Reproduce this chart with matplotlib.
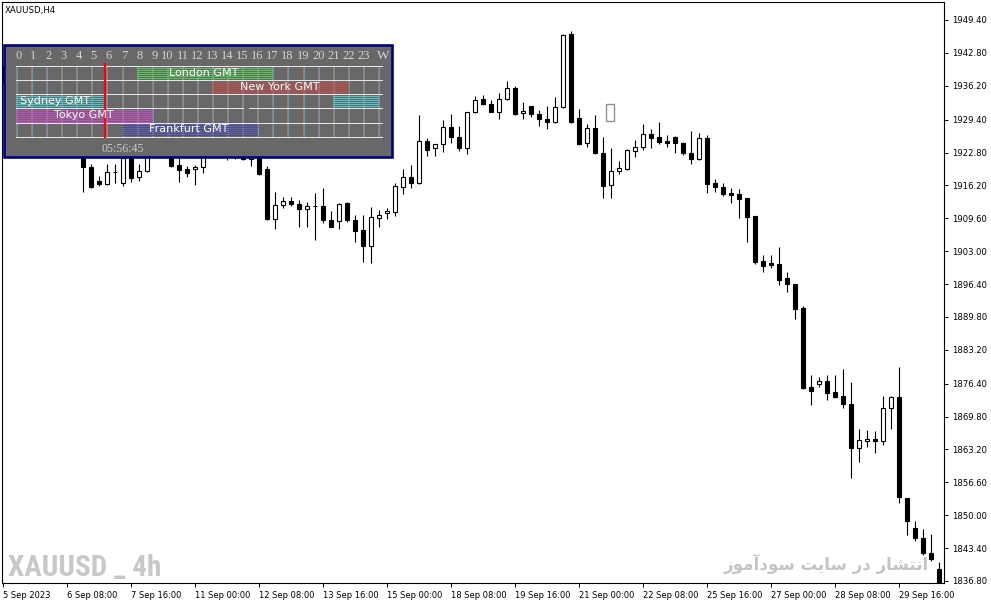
import numpy as np
import matplotlib
matplotlib.use('Agg')
import matplotlib.pyplot as plt
from matplotlib import font_manager
from matplotlib.patches import Rectangle

# XAUUSD H4 candles, 5 Sep 2023 .. 2 Oct 2023
opens = [1938.5, 1937.5, 1935.6, 1936.2, 1930.8, 1927.1, 1928.2, 1927.0, 1924.9, 1926.1,
         1925.6, 1919.9, 1917.1, 1916.5, 1918.9, 1916.7, 1922.8, 1917.9, 1919.1, 1923.8,
         1925.9, 1923.4, 1920.3, 1919.5, 1919.55, 1919.9, 1923.0, 1924.7, 1923.8, 1922.6,
         1923.2, 1921.4, 1922.4, 1919.5, 1909.4, 1912.3, 1913.1, 1912.5, 1911.5, 1912.1,
         1912.1, 1909.3, 1909.1, 1912.7, 1909.3, 1907.25, 1904.1, 1909.6, 1910.6, 1910.9,
         1915.9, 1917.8, 1916.6, 1925.1, 1923.65, 1924.45, 1927.9, 1925.9, 1923.8, 1930.9,
         1933.5, 1932.5, 1931.0, 1933.5, 1935.7, 1930.7, 1932.1, 1930.5, 1929.5, 1928.9,
         1931.9, 1946.6, 1929.7, 1924.65, 1927.7, 1922.8, 1916.3, 1919.15, 1919.4, 1923.2,
         1924.0, 1926.5, 1925.9, 1925.1, 1926.0, 1924.65, 1922.8, 1921.4, 1925.65, 1916.6,
         1915.8, 1914.6, 1914.4, 1913.6, 1910.1, 1901.0, 1900.6, 1900.4, 1897.55, 1896.4,
         1891.5, 1875.7, 1876.3, 1876.9, 1874.7, 1873.9, 1872.3, 1863.4, 1864.9, 1865.2,
         1864.8, 1871.5, 1873.8, 1853.4, 1847.5, 1845.5, 1842.4, 1839.3]
highs = [1940.2, 1938.6, 1937.0, 1936.9, 1932.0, 1928.8, 1929.9, 1927.9, 1926.8, 1927.4,
         1926.3, 1920.5, 1918.1, 1920.5, 1920.5, 1923.5, 1923.6, 1920.5, 1925.0, 1927.2,
         1926.8, 1924.2, 1922.4, 1920.0, 1920.3, 1924.0, 1925.8, 1926.6, 1925.1, 1924.0,
         1924.4, 1923.5, 1923.5, 1920.0, 1914.9, 1913.9, 1913.9, 1913.3, 1912.9, 1914.7,
         1915.7, 1911.1, 1912.7, 1912.8, 1910.3, 1910.3, 1911.9, 1911.3, 1911.7, 1916.7,
         1919.5, 1920.3, 1930.3, 1925.65, 1924.6, 1929.3, 1930.5, 1928.1, 1931.0, 1934.15,
         1934.3, 1933.3, 1934.7, 1937.2, 1936.15, 1932.9, 1932.2, 1931.3, 1932.1, 1933.9,
         1946.6, 1947.2, 1931.5, 1928.5, 1930.3, 1925.9, 1923.65, 1921.0, 1923.5, 1925.3,
         1928.5, 1927.5, 1928.9, 1926.3, 1926.1, 1925.0, 1927.1, 1926.7, 1926.3, 1917.5,
         1916.7, 1915.6, 1915.4, 1913.7, 1910.1, 1902.2, 1902.2, 1903.9, 1898.8, 1896.5,
         1892.0, 1878.1, 1877.7, 1878.1, 1878.1, 1879.35, 1876.8, 1867.25, 1867.1, 1866.9,
         1873.9, 1874.0, 1879.8, 1853.5, 1848.9, 1847.2, 1846.2, 1840.55]
lows = [1936.8, 1934.9, 1933.8, 1929.5, 1926.4, 1925.8, 1926.5, 1923.6, 1923.9, 1925.2,
        1914.9, 1915.7, 1916.1, 1916.3, 1916.7, 1916.1, 1916.9, 1917.1, 1918.9, 1922.6,
        1922.8, 1919.9, 1916.9, 1917.9, 1916.3, 1918.75, 1922.3, 1923.1, 1921.3, 1921.5,
        1921.2, 1920.15, 1918.3, 1909.3, 1907.45, 1911.6, 1912.0, 1907.9, 1907.9, 1905.2,
        1908.65, 1907.8, 1907.4, 1908.9, 1904.9, 1900.9, 1900.7, 1907.9, 1909.5, 1910.1,
        1914.5, 1915.7, 1916.5, 1922.1, 1922.1, 1923.0, 1924.8, 1923.2, 1922.6, 1930.7,
        1932.4, 1930.9, 1929.6, 1933.4, 1930.3, 1929.5, 1930.0, 1928.2, 1927.5, 1928.8,
        1931.7, 1928.8, 1924.3, 1924.0, 1922.5, 1913.7, 1913.6, 1918.4, 1919.3, 1921.8,
        1923.3, 1923.8, 1924.5, 1924.0, 1922.8, 1922.3, 1920.5, 1921.3, 1914.7, 1914.9,
        1914.1, 1912.7, 1909.6, 1904.9, 1900.4, 1898.9, 1899.6, 1896.2, 1894.9, 1889.4,
        1875.3, 1872.1, 1875.7, 1873.1, 1873.5, 1871.6, 1857.4, 1860.7, 1863.6, 1862.55,
        1864.1, 1867.3, 1852.4, 1846.0, 1844.9, 1842.0, 1840.8, 1836.0]
closes = [1937.5, 1935.6, 1936.2, 1930.8, 1927.1, 1928.2, 1927.0, 1924.9, 1926.1, 1925.6,
          1919.9, 1915.9, 1916.5, 1918.9, 1918.8, 1921.7, 1917.7, 1919.1, 1923.8, 1925.9,
          1923.4, 1920.1, 1919.3, 1918.7, 1919.95, 1923.0, 1924.7, 1923.8, 1922.6, 1923.2,
          1921.4, 1922.4, 1918.5, 1909.5, 1912.3, 1913.1, 1912.5, 1911.5, 1912.1, 1912.0,
          1909.3, 1907.9, 1912.5, 1909.3, 1907.1, 1904.1, 1909.9, 1910.3, 1911.1, 1916.1,
          1917.8, 1916.7, 1925.1, 1923.3, 1924.45, 1927.9, 1925.9, 1923.8, 1930.9, 1933.3,
          1932.5, 1931.0, 1933.5, 1935.7, 1930.5, 1931.1, 1930.5, 1929.5, 1928.9, 1931.9,
          1946.4, 1929.0, 1924.5, 1927.7, 1922.8, 1916.1, 1919.15, 1919.6, 1923.3, 1924.0,
          1926.5, 1925.8, 1925.0, 1924.8, 1924.65, 1922.8, 1921.4, 1925.65, 1916.4, 1915.8,
          1914.5, 1914.3, 1913.5, 1909.9, 1900.8, 1900.1, 1900.3, 1897.2, 1896.35, 1891.45,
          1875.6, 1875.0, 1876.9, 1874.6, 1873.8, 1872.3, 1863.4, 1865.1, 1865.2, 1864.8,
          1871.5, 1873.8, 1853.6, 1848.9, 1845.4, 1842.4, 1841.15, 1836.2]

date_labels = ['5 Sep 2023', '6 Sep 08:00', '7 Sep 16:00', '11 Sep 00:00', '12 Sep 08:00',
               '13 Sep 16:00', '15 Sep 00:00', '18 Sep 08:00', '19 Sep 16:00', '21 Sep 00:00',
               '22 Sep 08:00', '25 Sep 16:00', '27 Sep 00:00', '28 Sep 08:00', '29 Sep 16:00']
price_ticks = [1949.40, 1942.80, 1936.20, 1929.40, 1922.80, 1916.20, 1909.60, 1903.00, 1896.40,
               1889.80, 1883.20, 1876.40, 1869.80, 1863.20, 1856.60, 1850.00, 1843.40, 1836.80]

# sessions panel
sessions = ['London GMT', 'New York GMT', 'Sydney GMT', 'Tokyo GMT', 'Frankfurt GMT']
sess_start = [8, 13, 21, 0, 7]
sess_end = [17, 22, 6, 9, 16]
sess_colors = ['#50c850', '#c84848', '#48c8c8', '#c848c8', '#4848b0']
cur_time = '05:56:45'

W, H = 991, 605
fig = plt.figure(figsize=(W / 100, H / 100), dpi=100)

avail = {f.name for f in font_manager.fontManager.ttflist}
narrow = next(n for n in ['Liberation Sans Narrow', 'Roboto Condensed', 'DejaVu Sans'] if n in avail)
serif = 'Liberation Serif' if 'Liberation Serif' in avail else 'DejaVu Serif'


def px_box(l, t, r, b):
    return [l / W, 1 - b / H, (r - l) / W, (b - t) / H]


# background layer for watermarks
bg = fig.add_axes([0, 0, 1, 1], zorder=0)
bg.set_xlim(0, W)
bg.set_ylim(H, 0)
bg.axis('off')
bg.text(8, 576, 'XAUUSD _ 4h', family=narrow, weight='bold', size=21, color='#c8c8c8',
        ha='left', va='baseline')
fa = ('\uFEAF\uFEEE\uFEE3\uFE81\uFEA9\uFEEE\uFEB3 \uFE96\uFBFE\uFE8E\uFEB3 '
      '\uFEAD\uFEA9 \uFEAD\uFE8E\uFEB8\uFE98\uFEE7\uFE8D')
bg.text(929, 570, fa, family='DejaVu Sans', weight='bold', size=12, color='#c4c4c4',
        ha='right', va='baseline')

# price chart
ax = fig.add_axes(px_box(2, 2, 944, 583), zorder=1)
ax.set_facecolor('none')
o = np.array(opens)
h = np.array(highs)
l = np.array(lows)
c = np.array(closes)
idx = np.arange(len(o))
up = c >= o
ax.vlines(idx, l, h, color='black', lw=0.8, zorder=2)
ax.bar(idx[up], c[up] - o[up], bottom=o[up], width=0.6, facecolor='white',
       edgecolor='black', linewidth=0.8, zorder=3)
ax.bar(idx[~up], o[~up] - c[~up], bottom=c[~up], width=0.6, facecolor='black',
       edgecolor='black', linewidth=0.8, zorder=3)
ax.set_xlim(-0.125, 117.625)
ax.set_ylim(1836.39, 1953.01)

ax.yaxis.tick_right()
ax.set_yticks(price_ticks)
ax.set_yticklabels([f'{v:.2f}' for v in price_ticks])
ax.set_xticks(idx[::8][:len(date_labels)])
ax.set_xticklabels(date_labels)
plt.setp(ax.get_xticklabels(), ha='left')
ax.tick_params(axis='y', direction='out', length=3, width=0.7, pad=2.5, labelsize=6.1)
ax.tick_params(axis='x', direction='out', length=3, width=0.7, pad=2.5, labelsize=6.0)
for s in ax.spines.values():
    s.set_linewidth(0.8)

# overlay: title + sessions panel
ov = fig.add_axes([0, 0, 1, 1], zorder=2)
ov.set_xlim(0, W)
ov.set_ylim(H, 0)
ov.axis('off')
ov.set_facecolor('none')
ov.text(5, 10, 'XAUUSD,H4', size=6.2, ha='left', va='center')
ov.add_patch(Rectangle((606, 104), 8, 16.5, fill=False, edgecolor='#909090', lw=1))

ov.add_patch(Rectangle((3.5, 44.5), 388, 112.5, facecolor='#686868', edgecolor='#000080', lw=1.9))


def hx(hr):
    return round(15.0 + 15.08 * hr) + 0.5


rows = np.round(65.0 + 14.14 * np.arange(6)) + 0.5
for hr in range(25):
    ov.vlines(hx(hr), rows[0], rows[-1], color='#9c7c6c', lw=0.72, antialiased=False)
    ov.vlines(hx(hr) + 1, rows[0], rows[-1], color='#6a94b4', lw=0.72, antialiased=False)

for r, (name, a, b, col) in enumerate(zip(sessions, sess_start, sess_end, sess_colors)):
    top, bot = rows[r], rows[r + 1]
    segs = [(a, b)] if a < b else [(0, b), (a, 24)]
    for sa, sb in segs:
        ov.hlines(np.arange(top + 2, bot - 0.5, 2), hx(sa), hx(sb), color=col, lw=0.72,
                  antialiased=False)
    if a < b:
        ov.text((hx(a) + hx(b)) / 2, (top + bot) / 2, name, color='white', size=8,
                ha='center', va='center')
    else:
        ov.text(hx(0) + 5, (top + bot) / 2, name, color='white', size=8,
                ha='left', va='center')

for i, yy in enumerate(rows):
    if i == 3:
        ov.hlines([yy, yy], [hx(0), 249], [243, 381.7], color='#e6e6e6', lw=0.72,
                  antialiased=False)
    else:
        ov.hlines(yy, hx(0), 381.7, color='#e6e6e6', lw=0.72, antialiased=False)

for hr in range(24):
    ov.text(hx(hr) + (3 if hr < 10 else 1), 56, str(hr), family=serif, size=9,
            color='#cdd5dc', ha='center', va='center')
ov.text(383, 56, 'W', family=serif, size=9.5, color='#cdd5dc', ha='center', va='center')

hh, mm, ss = (int(t) for t in cur_time.split(':'))
ov.vlines(15.0 + 15.08 * (hh + mm / 60 + ss / 3600), 62.7, 138, color='#ff0000', lw=1.6)
ov.text(101.5, 149.5, cur_time, family=serif, size=8.6, color='#c8c8c8', ha='left', va='center')

fig.savefig('out.png', dpi=100)
